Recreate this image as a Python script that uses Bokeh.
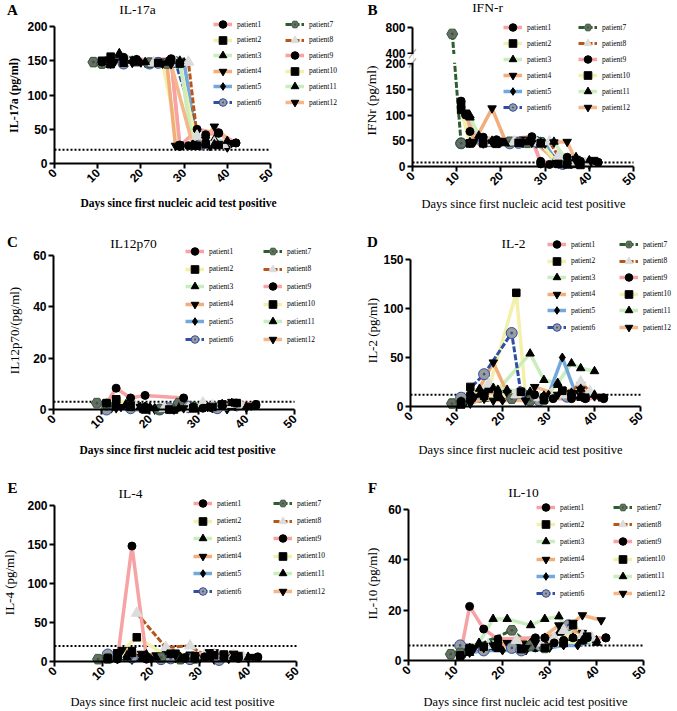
import math
from bokeh.plotting import figure
from bokeh.layouts import column, row
from bokeh.models import Range1d, FixedTicker, Label, Legend, LegendItem, PolyAnnotation
from bokeh.embed import file_html
from bokeh.resources import INLINE

# ---------------- data ----------------
PATIENTS = ["patient%d" % i for i in range(1, 13)]
X_TICKS = [0, 10, 20, 30, 40, 50]

DAYS = [
    [12, 16, 19, 27, 29, 33, 38, 42],
    [11, 13, 17, 23, 25, 29, 33, 37],
    [13, 15, 19, 26, 29, 32, 35, 37, 40],
    [12, 14, 18, 21, 26, 28, 33, 37],
    [13, 16, 20, 25, 30, 33, 36, 40],
    [11, 16, 22, 24, 28, 34],
    [9, 11, 22, 26, 29],
    [17, 23, 28, 31, 33, 35, 37, 39],
    [11, 13, 16, 19, 27, 29, 31, 35, 38, 42],
    [11, 13, 16, 19, 24, 29, 33, 35, 38],
    [13, 15, 18, 21, 26, 29, 32, 35, 37, 40],
    [13, 16, 18, 25, 27, 32, 35, 37, 41],
]

IL17A = [
    [150, 153, 152, 152, 25, 50, 44, 30],
    [149, 156, 150, 148, 147, 26, 27, 28],
    [148, 161, 151, 148, 150, 28, 30, 35, 32],
    [147, 149, 148, 147, 147, 26, 27, 28],
    [146, 148, 147, 146, 148, 27, 25, 23],
    [147, 146, 146, 147, 148, 28],
    [148, 146, 147, 146, 147],
    [148, 147, 147, 148, 40, 35, 30, 28],
    [148, 152, 155, 151, 153, 27, 26, 42, 45, 30],
    [150, 145, 147, 148, 147, 146, 26, 28, 27],
    [147, 158, 150, 148, 147, 149, 27, 30, 28, 33],
    [146, 150, 147, 146, 145, 27, 35, 54, 30],
]
IFNR = [
    [100, 50, 48, 52, 10, 6, 5, 8],
    [110, 45, 46, 47, 50, 48, 6, 5],
    [99, 55, 47, 46, 48, 8, 10, 17, 10],
    [105, 48, 113, 50, 47, 45, 8, 15],
    [48, 46, 47, 45, 44, 5, 4, 3],
    [45, 47, 45, 46, 48, 5],
    [700, 45, 48, 46, 47],
    [46, 48, 47, 48, 20, 10, 8, 5],
    [127, 68, 57, 52, 58, 5, 4, 18, 10, 8],
    [120, 45, 45, 44, 46, 45, 5, 4, 3],
    [95, 60, 50, 45, 47, 46, 48, 10, 18, 12],
    [46, 45, 47, 48, 46, 47, 48, 10, 13],
]
IL12P70 = [
    [1, 0.5, 1, 1.5, 1, 0.5, 1, 1.5],
    [2, 4, 1, 0.5, 0, 0.5, 1, 2],
    [1.5, 2, 1, 0.5, 1, 0.5, 2, 1.5, 1],
    [0.5, 1, 0.5, 0, 1, 0.5, 1, 2],
    [1, 0.5, 1, 0.5, 0.5, 0.5, 0, 0.5],
    [0, 0.5, 0, 0.5, 1, 0.5],
    [2.5, 2, 0, 2.5, 1],
    [1, 0.5, 0.5, 2.5, 1.5, 1, 2, 1],
    [2.5, 8.3, 4.5, 5.5, 4.5, 1, 0.5, 1.5, 2.5, 2],
    [2.5, 3.5, 1, 0, 0, 0.5, 1, 2, 2.5],
    [1, 1.5, 1, 0.5, 0.5, 0.5, 1, 2, 2.5, 1],
    [0.5, 2, 1, 0, 0.5, 1, 2, 3, 1.5],
]
IL2 = [
    [8, 12, 11, 12, 10, 15, 9, 8],
    [3, 10, 18, 116, 12, 8, 16, 10],
    [12, 18, 17, 54, 27, 24, 44, 39, 36],
    [5, 10, 45, 14, 8, 10, 13, 22],
    [5, 8, 6, 7, 12, 50, 12, 10],
    [9, 33, 75, 14, 6, 10],
    [3, 4, 8, 6, 7],
    [23, 12, 9, 10, 12, 14, 25, 15],
    [5, 12, 13, 11, 12, 10, 8, 8, 8, 9],
    [2, 20, 11, 10, 15, 7, 16, 13, 9],
    [10, 12, 19, 17, 15, 11, 22, 14, 18, 12],
    [3, 8, 6, 6, 20, 12, 10, 17, 10],
]
IL4 = [
    [5, 4, 3, 5, 6, 5, 4, 5],
    [3, 8, 31, 8, 10, 7, 6, 5],
    [10, 8, 9, 6, 5, 7, 6, 8, 6],
    [5, 15, 10, 8, 6, 9, 12, 10],
    [3, 2, 3, 4, 3, 2, 3, 4],
    [9, 5, 3, 4, 3, 2],
    [3, 4, 5, 3, 4],
    [62, 18, 20, 8, 9, 7, 8, 6],
    [4, 3, 148, 5, 4, 4, 6, 5, 5, 6],
    [4, 10, 11, 5, 10, 6, 8, 9, 7],
    [6, 5, 4, 5, 3, 4, 5, 6, 7, 5],
    [12, 15, 6, 8, 6, 12, 8, 10, 6],
]
IL10 = [
    [4, 5, 6, 5, 6, 8, 9, 9],
    [2, 5, 6, 5, 6, 5, 7, 8],
    [3, 6, 8, 7, 9, 11, 9, 10, 8],
    [3, 5, 6, 7, 6, 8, 12, 11],
    [3, 4, 4, 4, 5, 6, 6, 8],
    [6, 4, 5, 4, 6, 14],
    [2.5, 3, 12, 6, 5],
    [6, 8, 7, 9, 12, 14, 10, 9],
    [2, 21.5, 12.5, 8.5, 9, 9, 7, 9, 9, 9],
    [2, 4, 5.5, 5, 4.5, 5, 7, 14, 9.5],
    [5, 7, 16.5, 16.5, 14, 16.5, 17.5, 9, 8, 7],
    [5, 5, 6, 5, 7, 14, 15, 18, 16],
]

LOD = {"A": 20, "B": 8, "C": 3, "D": 12, "E": 20, "F": 6}
IFN_TICKS = [0, 50, 100, 150, 200, 400, 800]

# ---------------- styles ----------------
STYLE = [
    ("#F7A3A3", "circle", "black", "black", 8, "solid"),
    ("#F3F0AC", "square", "black", "black", 7.5, "solid"),
    ("#C9EDBD", "triangle", "black", "black", 8.5, "solid"),
    ("#F2AD7B", "inverted_triangle", "black", "black", 8.5, "solid"),
    ("#72A8DC", "diamond", "black", "black", 9, "solid"),
    ("#2F4FA3", "circle_dot", "#9C9C9C", "#2F4FA3", 11, "6 2"),
    ("#2D5E2D", "hex_dot", "#6B6B6B", "#2D5E2D", 11, "6 2"),
    ("#B5571D", "triangle", "#DCDCDC", "#DCDCDC", 11, "6 2"),
    ("#F7A3A3", "circle", "black", "black", 8, "solid"),
    ("#F3F0AC", "square", "black", "black", 7.5, "solid"),
    ("#C9EDBD", "triangle", "black", "black", 8.5, "solid"),
    ("#F5B68A", "inverted_triangle", "black", "black", 8.5, "solid"),
]

SERIF = "Liberation Serif"
SANS = "Liberation Sans"
XLAB = "Days since first nucleic acid test positive"


def brk(v):
    # broken axis: 0-200 linear, then gap, 400-800 compressed
    if v <= 200:
        return v
    return 220 + (v - 400) * 0.125


def build(cfg):
    ox, oy, W, H = cfg["box"]
    fl, ft, fr, fb = cfg["frame"]
    ytop = cfg["ytop"]
    tf = cfg.get("tf", lambda v: v)
    sx = 50.0 / (fr - fl)
    sy = float(ytop) / (fb - ft)
    p = figure(width=W, height=H, min_border=0,
               min_border_left=0, min_border_right=0, min_border_top=0, min_border_bottom=0,
               x_range=Range1d(-(fl - ox) * sx, (ox + W - fl) * sx),
               y_range=Range1d(-(oy + H - fb) * sy, (fb - oy) * sy),
               toolbar_location=None, output_backend="svg")
    p.outline_line_color = None
    p.xgrid.visible = False
    p.ygrid.visible = False
    for ax in (p.xaxis[0], p.yaxis[0]):
        ax.fixed_location = 0
        ax.axis_line_width = 2
        ax.major_tick_line_width = 2
        ax.major_tick_out = 5
        ax.major_tick_in = 0
        ax.minor_tick_line_color = None
        ax.major_label_text_font = SANS
        ax.major_label_text_font_style = "bold"
        ax.major_label_text_font_size = "12px"
        ax.major_label_text_color = "black"
        ax.major_label_standoff = 2
    p.xaxis.bounds = (X_TICKS[0], X_TICKS[-1])
    p.xaxis.ticker = FixedTicker(ticks=X_TICKS)
    p.xaxis.major_label_orientation = math.pi / 4
    if "tf" in cfg:
        ticks = [int(round(tf(v))) for v in IFN_TICKS]
        p.yaxis.ticker = FixedTicker(ticks=ticks)
        p.yaxis.major_label_overrides = {t: str(v) for t, v in zip(ticks, IFN_TICKS)}
        p.yaxis.bounds = (0, ticks[-1])
    else:
        p.yaxis.ticker = FixedTicker(ticks=cfg["yticks"])
        p.yaxis.bounds = (0, cfg["yticks"][-1])

    def to_data(rx, ry):
        return (rx - fl) * sx, (fb - ry) * sy

    def lab(text, rx, ry, size, bold=False, angle=0.0):
        x, y = to_data(rx, ry)
        p.add_layout(Label(x=x, y=y, text=text, text_font=SERIF, text_font_size=size,
                           text_font_style="bold" if bold else "normal",
                           text_align="center", text_baseline="middle", angle=angle,
                           text_color="black"))

    # threshold (dotted)
    lod = tf(cfg["lod"])
    p.line([X_TICKS[0], X_TICKS[-1]], [lod, lod], line_color="black", line_width=2,
           line_dash="2 2")

    lines, marks = [], []
    vals = cfg["vals"]
    for i in range(12):
        col, mk, fc, lc, sz, dash = STYLE[i]
        ys = [tf(v) for v in vals[i]]
        lines.append(p.line(DAYS[i], ys, line_color=col,
                            line_width=3.5 if dash == "solid" else 3, line_dash=dash))
    if "tf" in cfg:
        p.quad(left=0, right=50, bottom=tf(200) + 1.5, top=tf(400) - 1.5,
               fill_color="white", line_color=None)
    for i in range(12):
        col, mk, fc, lc, sz, dash = STYLE[i]
        ys = [tf(v) for v in vals[i]]
        marks.append(p.scatter(DAYS[i], ys, marker=mk, size=sz, fill_color=fc,
                               line_color=lc, line_width=1))

    if "tf" in cfg:
        p.add_layout(PolyAnnotation(xs=[-1.2, 0.3, 0.3, -1.2],
                                    ys=[tf(200) + 1.5, tf(200) + 1.5, tf(400) - 1.5, tf(400) - 1.5],
                                    fill_color="white", fill_alpha=1, line_alpha=0))
        for yy in (tf(200) + 1, tf(400) - 1):
            p.add_layout(PolyAnnotation(xs=[-0.8, 0.8], ys=[yy - 9, yy + 9],
                                        fill_alpha=0, line_color="black", line_width=1.5))

    # legend: one single-item legend per patient, two columns of six
    gh = 20
    for i in range(12):
        c, r = divmod(i, 6)
        leg = Legend(items=[LegendItem(label=PATIENTS[i], renderers=[lines[i], marks[i]])],
                     glyph_width=19, glyph_height=gh, label_height=gh,
                     label_width=10, spacing=0, padding=0, margin=0, label_standoff=5,
                     border_line_color=None, background_fill_alpha=0,
                     label_text_font=SERIF, label_text_font_size="7.5px",
                     label_text_color="black")
        yc = cfg["leg_y"] + r * cfg["pitch"]
        leg.location = (cfg["leg_x"][c] - ox, (oy + H) - (yc + gh / 2.0))
        p.add_layout(leg)

    t = cfg["title"]
    lab(t[0], t[1], t[2], "13.5px")
    l = cfg["letter"]
    lab(l[0], l[1], l[2], "15px", bold=True)
    yl = cfg["ylab"]
    lab(yl[0], yl[1], yl[2], yl[4], bold=yl[3], angle=math.pi / 2)
    xl = cfg["xlab"]
    lab(XLAB, xl[0], xl[1], xl[3], bold=xl[2])
    return p


CFGS = {
    "A": dict(box=(0, 0, 340, 230), frame=(54, 26, 270, 163), ytop=200, yticks=[0, 50, 100, 150, 200],
              vals=IL17A, lod=LOD["A"], title=("IL-17a", 137, 9), letter=("A", 12, 9),
              ylab=("IL-17a (pg/ml)", 13, 95, True, "12px"), xlab=(178, 202, True, "11.5px"),
              leg_x=[213, 285], leg_y=24, pitch=15.6),
    "B": dict(box=(340, 0, 335, 230), frame=(412, 27, 633, 166), ytop=270, tf=brk,
              vals=IFNR, lod=LOD["B"], title=("IFN-r", 487, 7), letter=("B", 372, 9),
              ylab=("IFNr (pg/ml)", 371, 100, False, "13.5px"), xlab=(523, 203, False, "12.5px"),
              leg_x=[503, 578], leg_y=27, pitch=16),
    "C": dict(box=(0, 230, 340, 230), frame=(53, 255, 294, 409), ytop=60, yticks=[0, 20, 40, 60],
              vals=IL12P70, lod=LOD["C"], title=("IL12p70", 133, 243), letter=("C", 12, 241),
              ylab=("IL12p70/(pg/ml)", 14, 330, False, "13px"), xlab=(177, 449, True, "11.5px"),
              leg_x=[185, 263], leg_y=251, pitch=17.6),
    "D": dict(box=(340, 230, 335, 230), frame=(410, 259, 640, 406), ytop=150, yticks=[0, 50, 100, 150],
              vals=IL2, lod=LOD["D"], title=("IL-2", 513, 243), letter=("D", 372, 241),
              ylab=("IL-2 (pg/ml)", 372, 330, False, "13px"), xlab=(520, 449, False, "12.5px"),
              leg_x=[547, 619], leg_y=244, pitch=16.6),
    "E": dict(box=(0, 460, 340, 249), frame=(54, 505, 296, 661), ytop=200, yticks=[0, 50, 100, 150, 200],
              vals=IL4, lod=LOD["E"], title=("IL-4", 130, 493), letter=("E", 12, 487),
              ylab=("IL-4 (pg/ml)", 9, 582, False, "13px"), xlab=(172, 701, False, "12.5px"),
              leg_x=[193, 273], leg_y=503, pitch=17.6),
    "F": dict(box=(340, 460, 335, 249), frame=(408, 509, 643, 660), ytop=60, yticks=[0, 20, 40, 60],
              vals=IL10, lod=LOD["F"], title=("IL-10", 523, 492), letter=("F", 372, 487),
              ylab=("IL-10 (pg/ml)", 372, 583, False, "13px"), xlab=(525, 701, False, "12.5px"),
              leg_x=[536, 613], leg_y=507, pitch=17.2),
}

figs = {k: build(v) for k, v in CFGS.items()}
layout = column(row(figs["A"], figs["B"]), row(figs["C"], figs["D"]), row(figs["E"], figs["F"]))

open("out.html", "w").write(file_html(layout, INLINE))
